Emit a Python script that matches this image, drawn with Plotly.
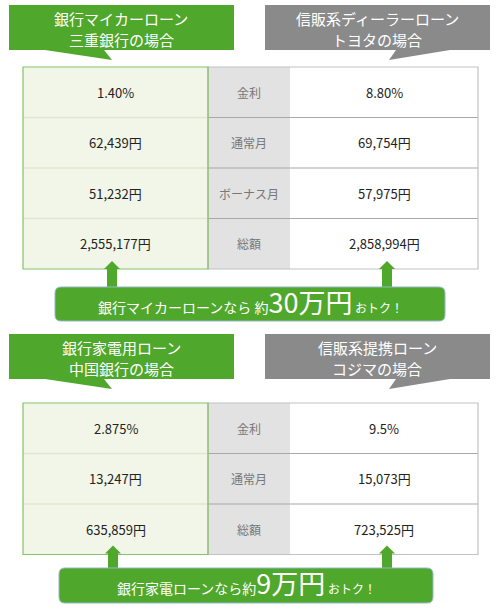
import plotly.graph_objects as go

# ---- data ----
row_labels_1 = ["金利", "通常月", "ボーナス月", "総額"]
bank_values_1 = ["1.40%", "62,439円", "51,232円", "2,555,177円"]
dealer_values_1 = ["8.80%", "69,754円", "57,975円", "2,858,994円"]
bank_title_1 = ["銀行マイカーローン", "三重銀行の場合"]
dealer_title_1 = ["信販系ディーラーローン", "トヨタの場合"]
saving_1 = ["銀行マイカーローンなら 約", "30万円", " おトク！"]

row_labels_2 = ["金利", "通常月", "総額"]
bank_values_2 = ["2.875%", "13,247円", "635,859円"]
dealer_values_2 = ["9.5%", "15,073円", "723,525円"]
bank_title_2 = ["銀行家電用ローン", "中国銀行の場合"]
dealer_title_2 = ["信販系提携ローン", "コジマの場合"]
saving_2 = ["銀行家電ローンなら約", "9万円", " おトク！"]

FONT = "Noto Sans CJK JP"
GREEN = "#4fa72b"
LIGHT_GREEN = "#f2f6e8"
GREEN_LINE = "#86c268"
GRAY_BANNER = "#8a8a8a"
GRAY_CELL = "#e2e2e2"
GRAY_LINE = "#c2c2c2"

X0, X1, X2, X3 = 23, 208, 290, 478
ROW_H = 50.5

fig = go.Figure()
shapes = []
annotations = []


def text(x, y, s, size=13, color="#222"):
    annotations.append(dict(x=x, y=y, text=s, showarrow=False, xanchor="center", yanchor="middle",
                            font=dict(family=FONT, size=size, color=color)))


def banner(top, title_left, title_right):
    b = top + 45
    shapes.append(dict(type="path", path=f"M9,{top} H234 V{b} H104 L112,{b+10} L45,{b} H9 Z",
                       fillcolor=GREEN, line=dict(width=0), layer="above"))
    shapes.append(dict(type="path", path=f"M265,{top} H490 V{b} H450 L389,{b+10} L396,{b} H265 Z",
                       fillcolor=GRAY_BANNER, line=dict(width=0), layer="above"))
    for i, s in enumerate(title_left):
        text(121, top + 13 + i * 21, s, size=15, color="white")
    for i, s in enumerate(title_right):
        text(377, top + 13 + i * 21, s, size=15, color="white")


def table(top, labels, left, right):
    n = len(labels)
    bottom = top + n * ROW_H
    shapes.append(dict(type="rect", x0=X0, x1=X1, y0=top, y1=bottom, fillcolor=LIGHT_GREEN, line=dict(width=0)))
    shapes.append(dict(type="rect", x0=X1, x1=X2, y0=top, y1=bottom, fillcolor=GRAY_CELL, line=dict(width=0)))
    shapes.append(dict(type="rect", x0=X2, x1=X3, y0=top, y1=bottom, fillcolor="white", line=dict(width=0)))
    for i in range(1, n):
        y = top + i * ROW_H
        shapes.append(dict(type="line", x0=X0, x1=X1, y0=y, y1=y, line=dict(color="#dfe8cf", width=1.5)))
        shapes.append(dict(type="line", x0=X1, x1=X3, y0=y, y1=y, line=dict(color="#a8a8a8", width=1.2)))
    shapes.append(dict(type="rect", x0=X1, x1=X3, y0=top, y1=bottom, line=dict(color=GRAY_LINE, width=1.2)))
    shapes.append(dict(type="rect", x0=X0, x1=X1, y0=top, y1=bottom, line=dict(color=GREEN_LINE, width=1.2)))
    for i in range(n):
        yc = top + (i + 0.5) * ROW_H
        text((X0 + X1) / 2, yc, left[i])
        text((X1 + X2) / 2, yc, labels[i], size=12, color="#777")
        text((X2 + X3) / 2, yc, right[i])
    return bottom


def up_arrow(cx, tip, base):
    shapes.append(dict(type="path",
                       path=f"M{cx},{tip} L{cx+8},{tip+8} L{cx+5},{tip+8} L{cx+5},{base} "
                            f"L{cx-5},{base} L{cx-5},{tip+8} L{cx-8},{tip+8} Z",
                       fillcolor=GREEN, line=dict(width=0), layer="above"))


def saving_box(x0, x1, y0, y1, parts):
    r = 6
    shapes.append(dict(type="path",
                       path=f"M{x0+r},{y0} H{x1-r} Q{x1},{y0} {x1},{y0+r} V{y1-r} Q{x1},{y1} {x1-r},{y1} "
                            f"H{x0+r} Q{x0},{y1} {x0},{y1-r} V{y0+r} Q{x0},{y0} {x0+r},{y0} Z",
                       fillcolor=GREEN, line=dict(color="#93b8c8", width=1), layer="above"))
    s = (f"<span style='font-size:14px'>{parts[0]}</span>"
         f"<span style='font-size:27px'>{parts[1]}</span>"
         f"<span style='font-size:12px'>{parts[2]}</span>")
    # mixed sizes sit on the small-text line, so nudge the whole string up
    text((x0 + x1) / 2, (y0 + y1) / 2 - 3, s, size=14, color="white")


# ---- section 1 ----
banner(5, bank_title_1, dealer_title_1)
bot1 = table(67, row_labels_1, bank_values_1, dealer_values_1)
up_arrow(112, bot1 - 8, 288)
up_arrow(387, bot1 - 8, 288)
saving_box(55, 445, 287, 321, saving_1)

# ---- section 2 ----
banner(334, bank_title_2, dealer_title_2)
bot2 = table(403, row_labels_2, bank_values_2, dealer_values_2)
up_arrow(113, bot2 - 9, 569)
up_arrow(387, bot2 - 9, 569)
saving_box(59, 433, 568, 603, saving_2)

fig.update_layout(
    width=500, height=610,
    margin=dict(l=0, r=0, t=0, b=0),
    paper_bgcolor="white", plot_bgcolor="white",
    xaxis=dict(range=[0, 500], visible=False, fixedrange=True),
    yaxis=dict(range=[610, 0], visible=False, fixedrange=True),
    shapes=shapes, annotations=annotations,
    showlegend=False,
)
# page body has a default 8px margin; drop it so the figure fills the window
fig.write_html("out.html", config={"displayModeBar": False},
               post_script="document.body.style.margin='0';document.body.style.overflow='hidden';")
